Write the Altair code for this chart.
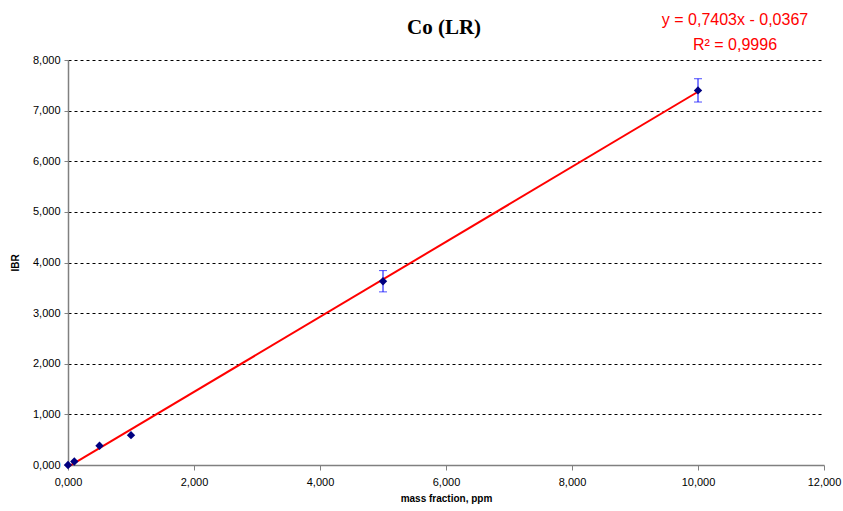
import altair as alt
import pandas as pd

# data
conc = [0, 0.1, 0.5, 1, 5, 10]          # mass fraction, ppm (thousands as shown)
ibr = [0.0, 0.07, 0.38, 0.59, 3.63, 7.40]
err = [0, 0, 0, 0, 0.21, 0.23]
x_ticks = [0, 2, 4, 6, 8, 10, 12]
y_ticks = [0, 1, 2, 3, 4, 5, 6, 7, 8]
title_text = "Co (LR)"
eq_line1 = "y = 0,7403x - 0,0367"
eq_line2 = "R² = 0,9996"

df = pd.DataFrame({"conc": conc, "ibr": ibr, "err": err})
df["lo"] = df["ibr"] - df["err"]
df["hi"] = df["ibr"] + df["err"]

label_expr = "replace(format(datum.value, '.3f'), '.', ',')"

xscale = alt.Scale(domain=[0, 12], nice=False, zero=True)
yscale = alt.Scale(domain=[0, 8], nice=False, zero=True)

xaxis = alt.Axis(values=x_ticks, labelExpr=label_expr, title="mass fraction, ppm",
                 grid=False, tickSize=5, labelPadding=6, titlePadding=6, labelFlush=False)
yaxis = alt.Axis(values=y_ticks, labelExpr=label_expr, title="IBR",
                 grid=True, gridDash=[3, 3], gridColor="#000000", gridOpacity=1,
                 tickSize=4, labelPadding=4, titlePadding=12, labelFlush=False)

base = alt.Chart(df)

trend = base.transform_regression("conc", "ibr", extent=[0, 10]).mark_line(
    color="#FF0000", strokeWidth=2
).encode(
    x=alt.X("conc:Q", scale=xscale, axis=xaxis),
    y=alt.Y("ibr:Q", scale=yscale, axis=yaxis),
)

err_df = base.transform_filter("datum.err > 0")
err_rule = err_df.mark_rule(color="#0000FF", strokeWidth=1).encode(
    x="conc:Q", y="lo:Q", y2="hi:Q"
)
cap_lo = err_df.mark_tick(color="#0000FF", thickness=1, size=8, orient="horizontal").encode(
    x="conc:Q", y="lo:Q"
)
cap_hi = err_df.mark_tick(color="#0000FF", thickness=1, size=8, orient="horizontal").encode(
    x="conc:Q", y="hi:Q"
)

points = base.mark_point(shape="diamond", filled=True, color="#000080",
                         size=70, opacity=1).encode(
    x="conc:Q", y="ibr:Q"
)

txt_df = pd.DataFrame({"t": [title_text]})
title_mark = alt.Chart(txt_df).mark_text(
    font="Liberation Serif", fontSize=21, fontWeight="bold", color="#000000",
    align="center", baseline="alphabetic"
).encode(text="t:N", x=alt.value(376), y=alt.value(-26))

eq1 = alt.Chart(pd.DataFrame({"t": [eq_line1]})).mark_text(
    color="#FF0000", font="Liberation Sans", fontSize=16, align="center", baseline="alphabetic"
).encode(text="t:N", x=alt.value(667), y=alt.value(-35))
eq2 = alt.Chart(pd.DataFrame({"t": [eq_line2]})).mark_text(
    color="#FF0000", font="Liberation Sans", fontSize=16, align="center", baseline="alphabetic"
).encode(text="t:N", x=alt.value(667), y=alt.value(-10))

chart = alt.layer(trend, err_rule, cap_lo, cap_hi, points, title_mark, eq1, eq2).properties(
    width=756, height=405,
    autosize=alt.AutoSizeParams(type="none"),
    padding={"left": 68, "top": 60, "right": 19, "bottom": 46},
).configure_view(stroke=None).configure_axis(
    labelFont="Liberation Sans", labelFontSize=11, labelColor="#000000",
    titleFont="Liberation Sans", titleFontSize=10, titleFontWeight="bold", titleColor="#000000",
    domainColor="#808080", tickColor="#808080", domainWidth=1.5,
)

chart.save("out.html", embed_options={"renderer": "svg", "actions": False})
